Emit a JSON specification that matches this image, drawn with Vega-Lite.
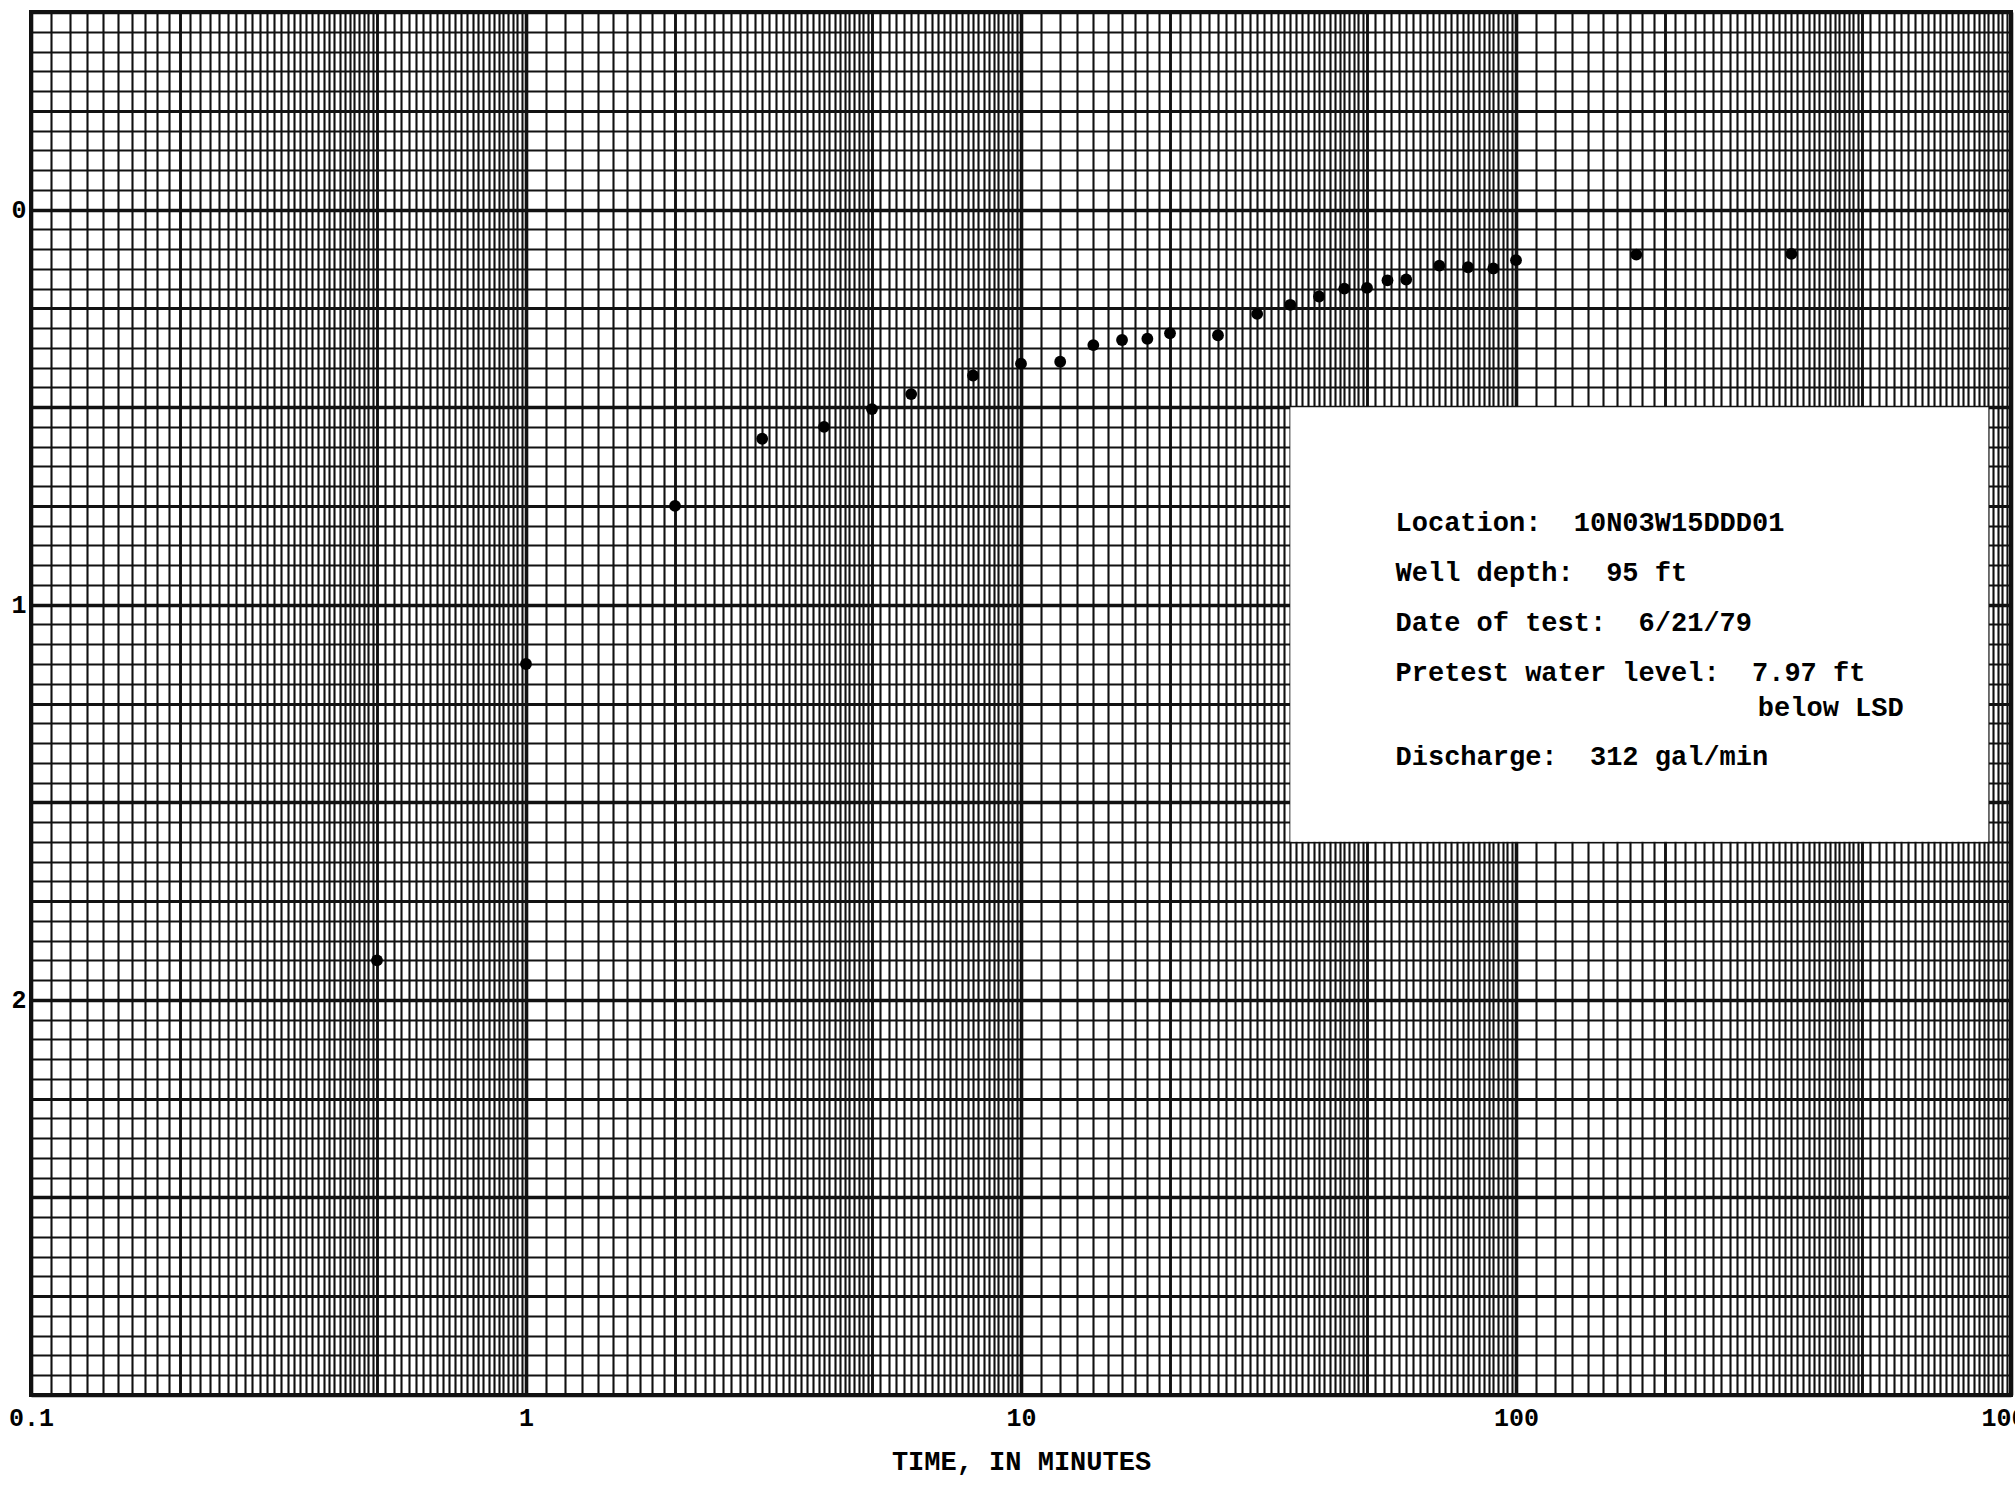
{
  "$schema": "https://vega.github.io/schema/vega-lite/v6.json",
  "width": 1980,
  "height": 1383,
  "autosize": {"type": "none"},
  "padding": {"left": 31, "top": 12, "right": 4, "bottom": 95},
  "background": "white",
  "config": {
    "view": {"stroke": "#111", "strokeWidth": 4},
    "axis": {"ticks": false, "domain": false, "labelColor": "black", "titleColor": "black", "gridColor": "#111", "gridOpacity": 1}
  },
  "datasets": {
    "drawdown": [
      {"time": 0.5, "drawdown": 1.90},
      {"time": 1, "drawdown": 1.15},
      {"time": 2, "drawdown": 0.75},
      {"time": 3, "drawdown": 0.58},
      {"time": 4, "drawdown": 0.55},
      {"time": 5, "drawdown": 0.505},
      {"time": 6, "drawdown": 0.467},
      {"time": 8, "drawdown": 0.42},
      {"time": 10, "drawdown": 0.39},
      {"time": 12, "drawdown": 0.385},
      {"time": 14, "drawdown": 0.343},
      {"time": 16, "drawdown": 0.33},
      {"time": 18, "drawdown": 0.327},
      {"time": 20, "drawdown": 0.313},
      {"time": 25, "drawdown": 0.318},
      {"time": 30, "drawdown": 0.264},
      {"time": 35, "drawdown": 0.241},
      {"time": 40, "drawdown": 0.22},
      {"time": 45, "drawdown": 0.2},
      {"time": 50, "drawdown": 0.198},
      {"time": 55, "drawdown": 0.179},
      {"time": 60, "drawdown": 0.177},
      {"time": 70, "drawdown": 0.142},
      {"time": 80, "drawdown": 0.146},
      {"time": 90, "drawdown": 0.149},
      {"time": 100, "drawdown": 0.128},
      {"time": 175, "drawdown": 0.114},
      {"time": 360, "drawdown": 0.112}
    ],
    "box": [{"t1": 35, "t2": 900, "d1": 0.5, "d2": 1.6}],
    "notes": [
      {"t": 57.1, "d": 0.792, "label": "Location:\u00a0 10N03W15DDD01"},
      {"t": 57.1, "d": 0.919, "label": "Well depth:\u00a0 95 ft"},
      {"t": 57.1, "d": 1.046, "label": "Date of test:\u00a0 6/21/79"},
      {"t": 57.1, "d": 1.172, "label": "Pretest water level:\u00a0 7.97 ft"},
      {"t": 308, "d": 1.261, "label": "below LSD"},
      {"t": 57.1, "d": 1.385, "label": "Discharge:\u00a0 312 gal/min"}
    ]
  },
  "layer": [
    {
      "data": {"name": "box"},
      "mark": {"type": "rect", "fill": "white", "strokeWidth": 0},
      "encoding": {
        "x": {
          "field": "t1", "type": "quantitative", "title": "TIME, IN MINUTES",
          "scale": {"type": "log", "domain": [0.1, 1000], "nice": false},
          "axis": {
            "values": [0.1,0.11,0.12,0.13,0.14,0.15,0.16,0.17,0.18,0.19,0.2,0.21,0.22,0.23,0.24,0.25,0.26,0.27,0.28,0.29,0.3,0.31,0.32,0.33,0.34,0.35,0.36,0.37,0.38,0.39,0.4,0.41,0.42,0.43,0.44,0.45,0.46,0.47,0.48,0.49,0.5,0.52,0.54,0.56,0.58,0.6,0.62,0.64,0.66,0.68,0.7,0.72,0.74,0.76,0.78,0.8,0.82,0.84,0.86,0.88,0.9,0.92,0.94,0.96,0.98,1,
              1.1,1.2,1.3,1.4,1.5,1.6,1.7,1.8,1.9,2,2.1,2.2,2.3,2.4,2.5,2.6,2.7,2.8,2.9,3,3.1,3.2,3.3,3.4,3.5,3.6,3.7,3.8,3.9,4,4.1,4.2,4.3,4.4,4.5,4.6,4.7,4.8,4.9,5,5.2,5.4,5.6,5.8,6,6.2,6.4,6.6,6.8,7,7.2,7.4,7.6,7.8,8,8.2,8.4,8.6,8.8,9,9.2,9.4,9.6,9.8,10,
              11,12,13,14,15,16,17,18,19,20,21,22,23,24,25,26,27,28,29,30,31,32,33,34,35,36,37,38,39,40,41,42,43,44,45,46,47,48,49,50,52,54,56,58,60,62,64,66,68,70,72,74,76,78,80,82,84,86,88,90,92,94,96,98,100,
              110,120,130,140,150,160,170,180,190,200,210,220,230,240,250,260,270,280,290,300,310,320,330,340,350,360,370,380,390,400,410,420,430,440,450,460,470,480,490,500,520,540,560,580,600,620,640,660,680,700,720,740,760,780,800,820,840,860,880,900,920,940,960,980,1000],
            "tickCount": 2000,
            "grid": true,
            "gridWidth": {
              "condition": [
                {"test": "abs(log(datum.value)/LN10 - round(log(datum.value)/LN10)) < 0.001", "value": 3.6},
                {"test": "abs(datum.value / pow(10, floor(log(datum.value)/LN10 + 0.000001)) - 2) < 0.0001 || abs(datum.value / pow(10, floor(log(datum.value)/LN10 + 0.000001)) - 5) < 0.0001", "value": 2.9}
              ],
              "value": 2.1
            },
            "format": "~g",
            "labelExpr": "abs(log(datum.value)/LN10 - round(log(datum.value)/LN10)) < 0.001 ? datum.label : ''",
            "labelFlush": false,
            "labelOverlap": false,
            "labelFont": "Liberation Mono",
            "labelFontSize": 25,
            "labelFontWeight": "bold",
            "labelPadding": 10,
            "titleFont": "Liberation Mono",
            "titleFontSize": 27,
            "titleFontWeight": "bold",
            "titlePadding": 18
          }
        },
        "x2": {"field": "t2"},
        "y": {
          "field": "d1", "type": "quantitative", "title": null,
          "scale": {"domain": [-0.5, 3], "reverse": true, "nice": false, "zero": false},
          "axis": {
            "values": [-0.5,-0.45,-0.4,-0.35,-0.3,-0.25,-0.2,-0.15,-0.1,-0.05,0,0.05,0.1,0.15,0.2,0.25,0.3,0.35,0.4,0.45,0.5,0.55,0.6,0.65,0.7,0.75,0.8,0.85,0.9,0.95,1,1.05,1.1,1.15,1.2,1.25,1.3,1.35,1.4,1.45,1.5,1.55,1.6,1.65,1.7,1.75,1.8,1.85,1.9,1.95,2,2.05,2.1,2.15,2.2,2.25,2.3,2.35,2.4,2.45,2.5,2.55,2.6,2.65,2.7,2.75,2.8,2.85,2.9,2.95,3],
            "tickCount": 2000,
            "grid": true,
            "gridWidth": {
              "condition": [
                {"test": "abs(datum.value*2 - round(datum.value*2)) < 0.001", "value": 3.6},
                {"test": "abs(datum.value*4 - round(datum.value*4)) < 0.001", "value": 3.0}
              ],
              "value": 2.1
            },
            "format": "~g",
            "labelExpr": "(datum.value == 0 || datum.value == 1 || datum.value == 2) ? datum.label : ''",
            "labelOverlap": false,
            "labelFont": "Liberation Mono",
            "labelFontSize": 25,
            "labelFontWeight": "bold",
            "labelPadding": 5
          }
        },
        "y2": {"field": "d2"}
      }
    },
    {
      "data": {"name": "notes"},
      "mark": {"type": "text", "align": "left", "baseline": "middle", "font": "Liberation Mono", "fontWeight": "bold", "fontSize": 27, "color": "black"},
      "encoding": {
        "x": {"field": "t", "type": "quantitative", "title": "TIME, IN MINUTES"},
        "y": {"field": "d", "type": "quantitative", "title": null},
        "text": {"field": "label"}
      }
    },
    {
      "data": {"name": "drawdown"},
      "mark": {"type": "circle", "color": "black", "size": 140, "opacity": 1},
      "encoding": {
        "x": {"field": "time", "type": "quantitative", "title": "TIME, IN MINUTES"},
        "y": {"field": "drawdown", "type": "quantitative", "title": null}
      }
    }
  ]
}
